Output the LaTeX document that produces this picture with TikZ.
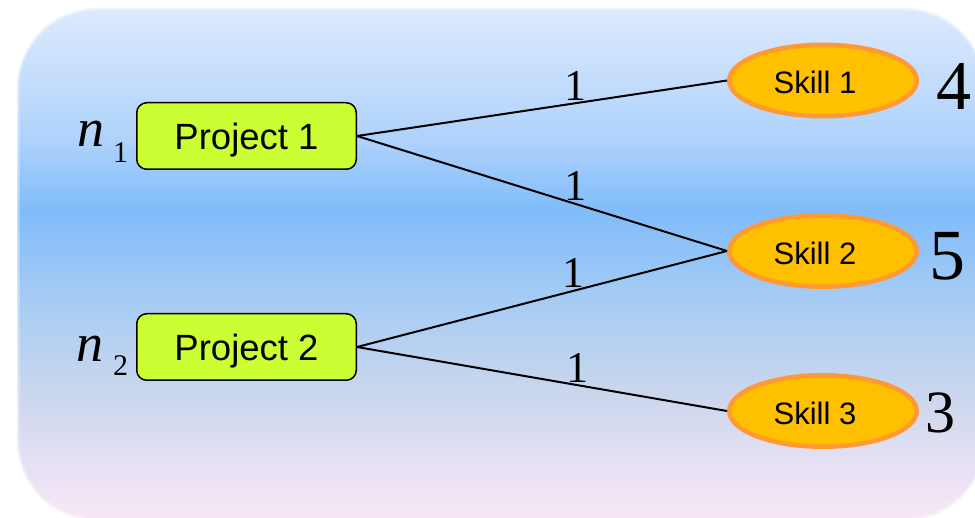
\documentclass[tikz,border=0pt]{standalone}
\usepackage{fontspec}
\setmainfont{Liberation Serif}
\newfontfamily\arialfont{Liberation Sans}
\usetikzlibrary{shapes.geometric}

\definecolor{projfill}{RGB}{204,255,51}
\definecolor{skillfill}{RGB}{255,192,0}
\definecolor{skillline}{RGB}{255,153,51}
\definecolor{bgA}{RGB}{221,234,253}
\definecolor{bgB}{RGB}{174,210,251}
\definecolor{bgC}{RGB}{128,188,250}
\definecolor{bgD}{RGB}{166,204,244}
\definecolor{bgE}{RGB}{205,215,237}
\definecolor{bgF}{RGB}{228,224,243}
\definecolor{bgG}{RGB}{249,232,246}

% panel gradient: light blue at the top, deeper blue band, fading to pink
\pgfdeclareverticalshading{panelshade}{100bp}{%
  color(0bp)=(bgG); color(25bp)=(bgG); color(31bp)=(bgF); color(36.8bp)=(bgE);
  color(46.5bp)=(bgD); color(55.3bp)=(bgC); color(62.1bp)=(bgB);
  color(75bp)=(bgA); color(100bp)=(bgA)}

\begin{document}
\begin{tikzpicture}[x=1pt,y=-1pt,
  projbox/.style={draw=black, line width=1.5pt, fill=projfill, rounded corners=10pt,
    minimum width=219.5pt, minimum height=66.5pt, inner sep=0pt,
    text height=28pt, text depth=0pt,
    font=\arialfont\fontsize{36.5}{36.5}\selectfont},
  skillell/.style={ellipse, draw=skillline, line width=4.5pt, fill=skillfill,
    minimum width=187.5pt, minimum height=71.5pt, inner sep=0pt},
  skilltxt/.style={inner sep=0pt, text height=27pt, text depth=0pt,
    font=\arialfont\fontsize{31}{31}\selectfont},
  edge/.style={draw=black, line width=2pt},
  wlabel/.style={anchor=base, inner sep=0pt, yshift=3pt, font=\fontsize{44}{44}\selectfont},
  bignum/.style={anchor=base west, inner sep=0pt},
  nlabel/.style={anchor=base west, inner sep=0pt}
]
\useasboundingbox (0,0) rectangle (975,518);

% background panel with soft edge
\begin{scope}
  \clip (0,0) rectangle (975,518);
  \path[shading=panelshade, rounded corners=80pt] (17,8) rectangle (985,521);
  \draw[white, opacity=0.35, line width=5pt, rounded corners=80pt] (17,8) rectangle (985,521);
  \draw[white, opacity=0.35, line width=2pt, rounded corners=80pt] (17,8) rectangle (985,521);
\end{scope}

% projects
\node[projbox] (p1) at (246.5,136) {Project 1};
\node[projbox] (p2) at (246.5,347) {Project 2};

% skills
\node[skillell] (s1) at (823,80.5) {};
\node[skillell] (s2) at (823,251) {};
\node[skillell] (s3) at (823,411) {};
\node[skilltxt] (s1t) at ([xshift=-8pt]s1.center) {Skill 1};
\node[skilltxt] (s2t) at ([xshift=-8pt]s2.center) {Skill 2};
\node[skilltxt] (s3t) at ([xshift=-8pt]s3.center) {Skill 3};

% connectors with weights
\draw[edge] (p1.east) -- node[wlabel, pos=0.59] (w1) {1} (s1.west);
\draw[edge] (p1.east) -- node[wlabel, pos=0.59] (w2) {1} (s2.west);
\draw[edge] (p2.east) -- node[wlabel, pos=0.585] (w3) {1} (s2.west);
\draw[edge] (p2.east) -- node[wlabel, pos=0.595] (w4) {1} (s3.west);

% project sizes
\node[nlabel] (n1) at (77,147) {{\fontsize{54}{54}\selectfont\itshape n}\hspace{9pt}\raisebox{-16pt}{\fontsize{30}{30}\selectfont 1}};
\node[nlabel] (n2) at (76,362) {{\fontsize{54}{54}\selectfont\itshape n}\hspace{10pt}\raisebox{-14pt}{\fontsize{30}{30}\selectfont 2}};

% skill totals
\node[bignum, font=\fontsize{70}{70}\selectfont] (k1) at (936,110) {4};
\node[bignum, font=\fontsize{72}{72}\selectfont] (k2) at (929,280) {5};
\node[bignum, font=\fontsize{60}{60}\selectfont] (k3) at (925,433) {3};
\end{tikzpicture}
\end{document}
